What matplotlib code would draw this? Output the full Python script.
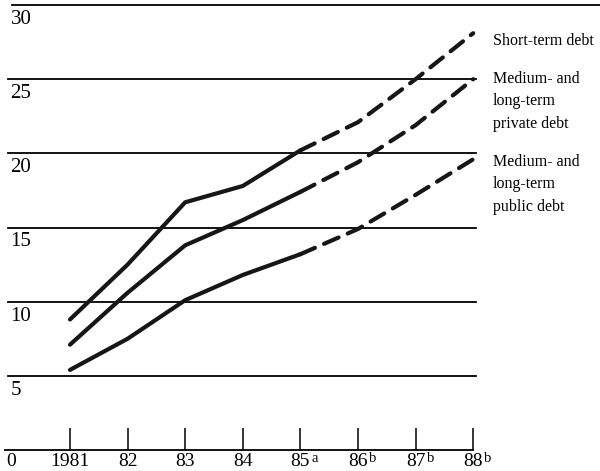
import matplotlib
matplotlib.use("Agg")
import matplotlib.pyplot as plt

# ---- data ----
years = ["1981", "82", "83", "84", "85", "86", "87", "88"]
year_marks = ["", "", "", "", "a", "b", "b", "b"]
short_term = [8.8, 12.5, 16.7, 17.8, 20.2, 22.1, 25.0, 28.1]
private_ml = [7.1, 10.6, 13.8, 15.5, 17.4, 19.4, 21.9, 25.0]
public_ml = [5.4, 7.5, 10.1, 11.8, 13.2, 14.9, 17.2, 19.6]
y_levels = [30, 25, 20, 15, 10, 5, 0]
series_labels = ["Short-term debt",
                 "Medium- and\nlong-term\nprivate debt",
                 "Medium- and\nlong-term\npublic debt"]
n_actual = 5  # 1981-85 actual (solid), 85-88 projected (dashed)

plt.rcParams['font.family'] = ['Liberation Serif', 'DejaVu Serif']

fig = plt.figure(figsize=(6.0, 4.71), dpi=100)
W, H = 600, 471
ax = fig.add_axes([5 / W, (H - 450) / H, 471 / W, 445 / H])

x = list(range(len(years)))
px_step = 57.6
ax.set_xlim(-65 / px_step, (476 - 70) / px_step)
ax.set_ylim(0, 30)

ink = '#161616'
lw = 3.0
for vals in (short_term, private_ml, public_ml):
    ax.plot(x[:n_actual], vals[:n_actual], color=ink, lw=lw,
            solid_capstyle='round', solid_joinstyle='round', zorder=3)
    ax.plot(x[n_actual - 1:], vals[n_actual - 1:], color=ink, lw=lw,
            dashes=(3.8, 2.4), dash_capstyle='round', zorder=3)

# gridlines
for v in y_levels:
    if v == 0:
        continue
    if v == 30:
        ax.axhline(v, xmin=0.014, xmax=(600 - 5) / 471, color='black',
                   lw=1.3, clip_on=False, zorder=1)
    else:
        ax.axhline(v, xmin=0.006, xmax=1.0, color='black', lw=1.3,
                   clip_on=False, zorder=1)

# y labels (below each line)
for v in y_levels:
    ax.annotate(str(v), xy=(0.0, v), xycoords=('axes fraction', 'data'),
                xytext=(4 if v else 1, -3.5 if v else -2),
                textcoords='offset points',
                ha='left', va='top', fontsize=15 if v else 14,
                annotation_clip=False)

for s in ('top', 'right', 'left'):
    ax.spines[s].set_visible(False)
ax.spines['bottom'].set_bounds(ax.get_xlim()[0], x[-1])
ax.spines['bottom'].set_linewidth(1.3)
ax.set_yticks([])
ax.set_xticks(x)
ax.set_xticklabels(years, fontsize=14)
ax.tick_params(axis='x', direction='in', length=16, width=1.1, pad=2.5)

# superscript notes on projected years
for i, m in zip(x, year_marks):
    if m:
        ax.annotate(m, xy=(i, 0), xycoords='data', xytext=(8, -1.5),
                    textcoords='offset points', ha='left', va='top',
                    fontsize=10.5, annotation_clip=False)

# series labels at right
label_y = [27.6, 23.5, 17.9]
for lab, yy in zip(series_labels, label_y):
    ax.text((493 - 70) / px_step, yy, lab, ha='left', va='center',
            fontsize=11.5, linespacing=1.55, clip_on=False)

fig.savefig("out.png", dpi=100)
